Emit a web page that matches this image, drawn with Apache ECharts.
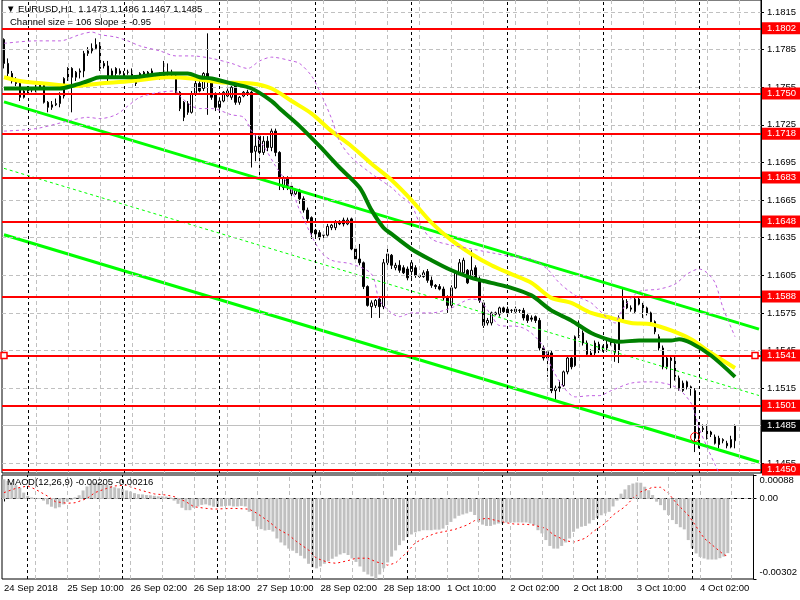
<!DOCTYPE html>
<html><head><meta charset="utf-8">
<script src="https://cdn.jsdelivr.net/npm/echarts@6/dist/echarts.min.js"></script>
<style>html,body{margin:0;padding:0;background:#fff}#c{width:800px;height:600px}</style>
</head><body><div id="c"></div>
<script>
// ---------- DATA ----------
const symbolName = 'EURUSD,H1';
const tickLabels = ['24 Sep 2018','25 Sep 10:00','26 Sep 02:00','26 Sep 18:00','27 Sep 10:00','28 Sep 02:00','28 Sep 18:00','1 Oct 10:00','2 Oct 02:00','2 Oct 18:00','3 Oct 10:00','4 Oct 02:00'];
const priceTicks = [1.1815,1.1785,1.1755,1.1725,1.1695,1.1665,1.1635,1.1605,1.1575,1.1545,1.1515,1.1485,1.1455];
const levels = [1.1802,1.1750,1.1718,1.1683,1.1648,1.1588,1.1541,1.1501,1.1450];
const selectedLevel = 1.1541;
const lastPrice = 1.1485;
const macdTicks = [0.00088, 0, -0.00302];

const opens = [1.1793,1.1774,1.1766,1.1760,1.1758,1.1747,1.1752,1.1754,1.1753,1.1755,1.1757,1.1743,1.1739,1.1741,1.1742,1.1748,1.1762,1.1770,1.1763,1.1767,
1.1768,1.1782,1.1784,1.1786,1.1789,1.1774,1.1772,1.1768,1.1770,1.1768,1.1766,1.1767,1.1768,1.1762,1.1762,1.1765,1.1767,1.1768,1.1764,1.1762,
1.1764,1.1766,1.1767,1.1764,1.1751,1.1743,1.1742,1.1735,1.1750,1.1758,1.1754,1.1766,1.1760,1.1749,1.1739,1.1744,1.1748,1.1747,1.1756,1.1743,
1.1748,1.1751,1.1751,1.1704,1.1716,1.1703,1.1712,1.1707,1.1720,1.1703,1.1675,1.1683,1.1676,1.1670,1.1673,1.1666,1.1657,1.1651,1.1641,1.1639,
1.1637,1.1637,1.1643,1.1643,1.1648,1.1649,1.1646,1.1650,1.1626,1.1618,1.1615,1.1596,1.1580,1.1581,1.1586,1.1580,1.1615,1.1621,1.1611,1.1613,
1.1611,1.1610,1.1608,1.1611,1.1605,1.1604,1.1608,1.1601,1.1597,1.1596,1.1594,1.1587,1.1581,1.1595,1.1607,1.1607,1.1609,1.1603,1.1611,1.1602,
1.1583,1.1567,1.1567,1.1574,1.1574,1.1579,1.1578,1.1577,1.1578,1.1577,1.1577,1.1573,1.1571,1.1572,1.1569,1.1547,1.1544,1.1543,1.1513,1.1516,
1.1517,1.1528,1.1539,1.1533,1.1556,1.1559,1.1551,1.1541,1.1543,1.1550,1.1548,1.1547,1.1553,1.1550,1.1545,1.1570,1.1584,1.1579,1.1576,1.1586,
1.1582,1.1579,1.1575,1.1568,1.1556,1.1547,1.1532,1.1539,1.1538,1.1523,1.1513,1.1520,1.1516,1.1513,1.1477,1.1482,1.1484,1.1480,1.1476,1.1475,
1.1473,1.1471,1.1468,1.1473];
const closes = [1.1774,1.1766,1.1760,1.1758,1.1747,1.1752,1.1754,1.1753,1.1755,1.1757,1.1743,1.1739,1.1741,1.1742,1.1748,1.1762,1.1770,1.1763,1.1767,1.1768,
1.1782,1.1784,1.1786,1.1789,1.1770,1.1772,1.1762,1.1764,1.1766,1.1766,1.1766,1.1767,1.1764,1.1758,1.1766,1.1767,1.1764,1.1764,1.1763,1.1766,
1.1768,1.1767,1.1765,1.1751,1.1738,1.1731,1.1735,1.1750,1.1758,1.1752,1.1766,1.1760,1.1747,1.1739,1.1744,1.1751,1.1752,1.1755,1.1743,1.1747,
1.1751,1.1750,1.1703,1.1708,1.1703,1.1712,1.1707,1.1720,1.1703,1.1683,1.1683,1.1675,1.1670,1.1673,1.1666,1.1657,1.1650,1.1639,1.1638,1.1635,
1.1637,1.1644,1.1645,1.1647,1.1646,1.1646,1.1649,1.1626,1.1618,1.1615,1.1596,1.1581,1.1583,1.1585,1.1580,1.1615,1.1622,1.1613,1.1613,1.1609,
1.1607,1.1603,1.1615,1.1605,1.1604,1.1607,1.1601,1.1597,1.1596,1.1594,1.1587,1.1581,1.1595,1.1607,1.1615,1.1617,1.1599,1.1609,1.1602,1.1585,
1.1565,1.1569,1.1575,1.1575,1.1579,1.1576,1.1575,1.1577,1.1576,1.1577,1.1571,1.1569,1.1570,1.1569,1.1547,1.1539,1.1539,1.1513,1.1515,1.1515,
1.1528,1.1539,1.1532,1.1556,1.1557,1.1551,1.1542,1.1543,1.1551,1.1545,1.1547,1.1550,1.1550,1.1543,1.1571,1.1585,1.1579,1.1578,1.1586,1.1582,
1.1577,1.1575,1.1568,1.1560,1.1547,1.1532,1.1539,1.1537,1.1524,1.1515,1.1519,1.1516,1.1515,1.1475,1.1480,1.1483,1.1475,1.1478,1.1471,1.1470,
1.1474,1.1469,1.1474,1.1485];
const highs = [1.1794,1.1778,1.1768,1.1763,1.1761,1.1754,1.1756,1.1755,1.1757,1.1759,1.1758,1.1744,1.1744,1.1746,1.1751,1.1763,1.1771,1.1771,1.1768,1.1770,
1.1784,1.1787,1.1790,1.1794,1.1791,1.1776,1.1776,1.1770,1.1771,1.1770,1.1768,1.1769,1.1770,1.1764,1.1767,1.1768,1.1768,1.1770,1.1766,1.1767,
1.1776,1.1774,1.1769,1.1766,1.1752,1.1744,1.1744,1.1752,1.1760,1.1760,1.1767,1.1798,1.1762,1.1751,1.1747,1.1752,1.1754,1.1756,1.1758,1.1748,
1.1752,1.1753,1.1752,1.1718,1.1718,1.1716,1.1716,1.1722,1.1722,1.1704,1.1684,1.1684,1.1678,1.1674,1.1674,1.1668,1.1659,1.1652,1.1642,1.1641,
1.1638,1.1646,1.1646,1.1649,1.1649,1.1651,1.1651,1.1651,1.1628,1.1630,1.1616,1.1597,1.1585,1.1586,1.1588,1.1618,1.1628,1.1622,1.1615,1.1617,
1.1613,1.1612,1.1617,1.1613,1.1606,1.1609,1.1610,1.1604,1.1598,1.1598,1.1596,1.1589,1.1597,1.1609,1.1618,1.1619,1.1610,1.1625,1.1613,1.1604,
1.1585,1.1571,1.1576,1.1576,1.1580,1.1580,1.1580,1.1578,1.1580,1.1578,1.1579,1.1575,1.1573,1.1573,1.1571,1.1549,1.1545,1.1545,1.1517,1.1521,
1.1529,1.1541,1.1541,1.1557,1.1569,1.1561,1.1553,1.1546,1.1553,1.1552,1.1549,1.1553,1.1554,1.1553,1.1573,1.1594,1.1586,1.1581,1.1588,1.1588,
1.1583,1.1580,1.1576,1.1569,1.1558,1.1549,1.1541,1.1541,1.1540,1.1525,1.1521,1.1521,1.1517,1.1515,1.1488,1.1486,1.1486,1.1481,1.1478,1.1477,
1.1475,1.1473,1.1477,1.1486];
const lows = [1.1770,1.1763,1.1758,1.1756,1.1744,1.1746,1.1750,1.1751,1.1751,1.1753,1.1742,1.1735,1.1737,1.1740,1.1739,1.1746,1.1760,1.1735,1.1760,1.1762,
1.1763,1.1780,1.1782,1.1785,1.1768,1.1770,1.1760,1.1762,1.1764,1.1765,1.1764,1.1765,1.1762,1.1756,1.1761,1.1764,1.1762,1.1762,1.1761,1.1761,
1.1763,1.1764,1.1763,1.1750,1.1736,1.1728,1.1733,1.1734,1.1748,1.1751,1.1752,1.1733,1.1745,1.1736,1.1737,1.1743,1.1747,1.1745,1.1741,1.1741,
1.1747,1.1748,1.1691,1.1696,1.1685,1.1701,1.1704,1.1704,1.1700,1.1673,1.1673,1.1673,1.1665,1.1669,1.1662,1.1655,1.1647,1.1634,1.1636,1.1633,
1.1634,1.1636,1.1641,1.1641,1.1645,1.1644,1.1645,1.1625,1.1617,1.1613,1.1594,1.1580,1.1571,1.1579,1.1571,1.1578,1.1613,1.1610,1.1609,1.1607,
1.1606,1.1601,1.1603,1.1603,1.1603,1.1603,1.1599,1.1595,1.1594,1.1593,1.1585,1.1575,1.1576,1.1594,1.1606,1.1605,1.1598,1.1602,1.1601,1.1583,
1.1563,1.1565,1.1565,1.1573,1.1572,1.1575,1.1573,1.1575,1.1575,1.1575,1.1569,1.1567,1.1568,1.1567,1.1545,1.1537,1.1524,1.1511,1.1505,1.1512,
1.1516,1.1526,1.1530,1.1532,1.1555,1.1549,1.1540,1.1540,1.1541,1.1543,1.1544,1.1544,1.1549,1.1536,1.1535,1.1569,1.1578,1.1576,1.1575,1.1581,
1.1571,1.1573,1.1566,1.1558,1.1545,1.1530,1.1530,1.1515,1.1521,1.1513,1.1512,1.1514,1.1509,1.1464,1.1467,1.1480,1.1474,1.1476,1.1470,1.1467,
1.1471,1.1467,1.1467,1.1467];

// moving averages, read at sample bars: [bar, price]
const maYellow = [[0,1.1763],[4,1.1760],[10,1.1758],[17,1.1756],[24,1.1758],[32,1.1760],[41,1.1763],[47,1.1762],[54,1.1759],[62,1.1758],[67,1.1754],[72,1.1744],[77,1.1734],[82,1.1720],[87,1.1708],[92,1.1694],[97,1.1681],[102,1.1665],[107,1.1647],[112,1.1633],[117,1.1622],[122,1.1613],[127,1.1606],[132,1.1599],[137,1.1587],[142,1.1583],[147,1.1575],[152,1.1571],[157,1.1567],[162,1.1566],[167,1.1561],[172,1.1554],[177,1.1543],[183,1.1531]];
const maGreen = [[0,1.1754],[7,1.1754],[14,1.1754],[17,1.1756],[21,1.1760],[24,1.1763],[32,1.1763],[41,1.1766],[46,1.1766],[49,1.1763],[52,1.1762],[57,1.1758],[62,1.1754],[67,1.1744],[69,1.1738],[74,1.1724],[79,1.1708],[84,1.1691],[89,1.1675],[92,1.1657],[95,1.1643],[97,1.1638],[102,1.1626],[107,1.1617],[112,1.1609],[117,1.1603],[122,1.1599],[127,1.1595],[132,1.1589],[137,1.1577],[142,1.1569],[147,1.1559],[152,1.1553],[154,1.1552],[159,1.1553],[167,1.1553],[169,1.1554],[172,1.1551],[177,1.1541],[183,1.1524]];
// Bollinger-type envelope (dashed purple)
const bbUpper = [[0,1.1790],[8,1.1792],[14,1.1792],[19,1.1797],[22,1.1799],[24,1.1797],[28,1.1795],[31,1.1792],[34,1.1788],[39,1.1784],[43,1.1780],[47,1.1780],[52,1.1778],[57,1.1774],[61,1.1770],[64,1.1776],[67,1.1779],[72,1.1776],[74,1.1774],[77,1.1764],[79,1.1752],[82,1.1730],[84,1.1712],[87,1.1699],[92,1.1686],[97,1.1675],[99,1.1669],[102,1.1661],[104,1.1647],[107,1.1634],[112,1.1629],[117,1.1626],[122,1.1623],[127,1.1620],[132,1.1618],[136,1.1610],[139,1.1599],[143,1.1589],[147,1.1583],[149,1.1577],[153,1.1567],[154,1.1573],[156,1.1583],[159,1.1592],[164,1.1594],[168,1.1598],[171,1.1606],[174,1.1610],[176,1.1607],[178,1.1599],[180,1.1579],[183,1.1556]];
const bbLower = [[0,1.1720],[8,1.1722],[16,1.1728],[21,1.1731],[24,1.1730],[28,1.1733],[31,1.1740],[34,1.1747],[39,1.1751],[43,1.1752],[44,1.1748],[47,1.1740],[49,1.1738],[52,1.1738],[57,1.1733],[60,1.1731],[62,1.1720],[65,1.1708],[68,1.1692],[72,1.1673],[74,1.1657],[79,1.1625],[82,1.1617],[87,1.1614],[92,1.1606],[94,1.1585],[97,1.1575],[99,1.1572],[102,1.1575],[107,1.1575],[112,1.1579],[117,1.1586],[119,1.1585],[122,1.1573],[124,1.1565],[129,1.1564],[132,1.1559],[135,1.1548],[137,1.1532],[140,1.1516],[143,1.1508],[147,1.1509],[149,1.1509],[152,1.1513],[157,1.1519],[162,1.1520],[168,1.1516],[172,1.1503],[174,1.1483],[176,1.1468],[178,1.1454],[180,1.1442],[183,1.1434]];
// regression channel (start bar, end bar)
const channelMid = [[0,1.16903],[189,1.15091]];
const channelUpper = [[0,1.17433],[189,1.15621]];
const channelLower = [[0,1.16373],[189,1.14561]];
const entryMark = [173, 1.1476];

const macdHist = [0.00072,0.00066,0.00058,0.00050,0.00040,0.00022,0.00010,0.00004,0.00002,0.00001,-0.00008,-0.00022,-0.00031,-0.00037,-0.00033,-0.00022,-0.00012,-0.00006,0.00004,0.00012,
0.00030,0.00045,0.00055,0.00060,0.00060,0.00058,0.00052,0.00048,0.00042,0.00038,0.00036,0.00030,0.00026,0.00020,0.00016,0.00015,0.00013,0.00012,0.00010,0.00008,
0.00008,0.00007,0.00004,-0.00008,-0.00020,-0.00035,-0.00044,-0.00044,-0.00035,-0.00030,-0.00024,-0.00022,-0.00026,-0.00031,-0.00032,-0.00030,-0.00028,-0.00027,-0.00030,-0.00030,
-0.00028,-0.00030,-0.00050,-0.00085,-0.00105,-0.00115,-0.00120,-0.00118,-0.00124,-0.00150,-0.00165,-0.00176,-0.00188,-0.00196,-0.00205,-0.00215,-0.00225,-0.00245,-0.00258,-0.00262,
-0.00255,-0.00245,-0.00236,-0.00226,-0.00218,-0.00210,-0.00205,-0.00212,-0.00225,-0.00238,-0.00255,-0.00275,-0.00285,-0.00292,-0.00302,-0.00285,-0.00262,-0.00240,-0.00218,-0.00195,
-0.00175,-0.00158,-0.00145,-0.00135,-0.00127,-0.00123,-0.00119,-0.00119,-0.00119,-0.00117,-0.00117,-0.00113,-0.00100,-0.00088,-0.00075,-0.00065,-0.00060,-0.00056,-0.00050,-0.00062,
-0.00088,-0.00098,-0.00103,-0.00103,-0.00098,-0.00094,-0.00094,-0.00090,-0.00090,-0.00090,-0.00090,-0.00090,-0.00090,-0.00094,-0.00100,-0.00119,-0.00131,-0.00156,-0.00178,-0.00188,
-0.00188,-0.00178,-0.00165,-0.00150,-0.00125,-0.00113,-0.00106,-0.00103,-0.00094,-0.00081,-0.00073,-0.00063,-0.00056,-0.00050,-0.00030,-0.00008,0.00018,0.00034,0.00050,0.00056,
0.00060,0.00059,0.00044,0.00031,0.00013,-0.00012,-0.00025,-0.00044,-0.00062,-0.00081,-0.00096,-0.00108,-0.00116,-0.00156,-0.00187,-0.00206,-0.00219,-0.00225,-0.00229,-0.00229,
-0.00229,-0.00224,-0.00218,-0.00205];
const macdSignal = [[0,0.00022],[3,0.00038],[6,0.00047],[8,0.00034],[11,0.00009],[13,-0.00012],[16,-0.00018],[18,-0.00016],[21,0.0],[23,0.00022],[26,0.00038],[28,0.00047],[31,0.00050],[33,0.00038],[36,0.00025],[38,0.00017],[41,0.00013],[43,0.00007],[46,-0.00012],[48,-0.00031],[51,-0.00037],[53,-0.00040],[58,-0.00037],[62,-0.00040],[64,-0.00056],[67,-0.00087],[69,-0.00112],[72,-0.00137],[74,-0.00162],[77,-0.00193],[79,-0.00224],[82,-0.00240],[84,-0.00243],[87,-0.00233],[89,-0.00224],[92,-0.00224],[94,-0.00237],[97,-0.00250],[99,-0.00242],[102,-0.00200],[104,-0.00166],[107,-0.00143],[109,-0.00131],[112,-0.00122],[114,-0.00116],[117,-0.00100],[119,-0.00083],[122,-0.00074],[124,-0.00081],[127,-0.00091],[129,-0.00096],[132,-0.00097],[134,-0.00100],[137,-0.00112],[139,-0.00137],[142,-0.00158],[144,-0.00164],[147,-0.00149],[149,-0.00124],[152,-0.00093],[154,-0.00062],[157,-0.00031],[159,0.0],[161,0.00025],[164,0.00042],[166,0.00042],[168,0.00020],[170,-0.00018],[173,-0.00062],[175,-0.00105],[177,-0.00149],[180,-0.00186],[182,-0.00211],[183,-0.00216]];

// ---------- TIMELINE (hourly bars, weekends skipped) ----------
const SLOTS = 190;
const MONTHS = ['Jan','Feb','Mar','Apr','May','Jun','Jul','Aug','Sep','Oct','Nov','Dec'];
const cats = [];
(function(){
  let t = Date.UTC(2018, 8, 24, 18);
  while (cats.length < SLOTS) {
    const d = new Date(t);
    const wd = d.getUTCDay();
    if (wd !== 0 && wd !== 6) {
      const h = d.getUTCHours();
      cats.push(d.getUTCDate() + ' ' + MONTHS[d.getUTCMonth()] + ' ' + (h < 10 ? '0' : '') + h + ':00');
    }
    t += 3600e3;
  }
})();
const labelEvery = 16, gridEvery = 8;
const grayV = [], dayV = [];
cats.forEach((c, i) => { if (c.endsWith(' 00:00')) dayV.push(c); else if (i > 0 && i % gridEvery === 0) grayV.push(c); });

// ---------- CHART ----------
const FF = "'Liberation Sans', Arial, sans-serif";
const FS = 9.5;
const chart = echarts.init(document.getElementById('c'), null, {renderer: 'canvas'});
const last = opens.length - 1;
const grayDash = {color: '#c0c0c0', type: [4, 3], width: 1};
const blackDash = {color: '#000', type: [3, 3], width: 1};
const f4 = v => v.toFixed(4);

const option = {
  animation: false,
  backgroundColor: '#fff',
  textStyle: {fontFamily: FF},
  title: [
    {text: '\u25BC ' + symbolName + '  ' + [opens[last], highs[last], lows[last], closes[last]].map(f4).join(' '),
     left: 6, top: 4, padding: 0, textStyle: {fontSize: FS, fontWeight: 'normal', color: '#000', fontFamily: FF, lineHeight: 11}},
    {text: 'Channel size = 106 Slope = -0.95', left: 10, top: 17, padding: 0,
     textStyle: {fontSize: FS, fontWeight: 'normal', color: '#000', fontFamily: FF, lineHeight: 11}},
    {text: 'MACD(12,26,9) ' + macdHist[last].toFixed(5) + ' ' + macdSignal[macdSignal.length - 1][1].toFixed(5),
     left: 7, top: 477, padding: 0, textStyle: {fontSize: FS, fontWeight: 'normal', color: '#000', fontFamily: FF, lineHeight: 11}}
  ],
  grid: [
    {left: 2, top: -1, width: 759, height: 474, show: true, borderColor: '#000', borderWidth: 1, backgroundColor: 'rgba(0,0,0,0)'},
    {left: 2, top: 475, width: 759, height: 104, show: true, borderColor: '#000', borderWidth: 1, backgroundColor: 'rgba(0,0,0,0)'}
  ],
  xAxis: [
    {type: 'category', gridIndex: 0, data: cats, show: false},
    {type: 'category', gridIndex: 1, data: cats,
     axisLine: {show: true, lineStyle: {color: '#000'}},
     axisTick: {show: true, alignWithLabel: true, length: 3, interval: i => i % labelEvery === 0, lineStyle: {color: '#000'}},
     axisLabel: {show: true, interval: i => i % labelEvery === 0, align: 'left', margin: 4, color: '#000', fontSize: FS, fontFamily: FF,
       formatter: (v, i) => tickLabels[i / labelEvery] || ''},
     splitLine: {show: false}}
  ],
  yAxis: [
    {type: 'value', gridIndex: 0, position: 'right', min: 1.14473, max: 1.18246,
     axisLine: {show: true, lineStyle: {color: '#000'}},
     axisTick: {show: true, length: 3, customValues: priceTicks, lineStyle: {color: '#000'}},
     axisLabel: {show: true, customValues: priceTicks, formatter: v => v.toFixed(4), margin: 6, color: '#000', fontSize: FS, fontFamily: FF},
     splitLine: {show: false}},
    {type: 'value', gridIndex: 1, position: 'right', min: -0.00302, max: 0.00088,
     axisLine: {show: true, lineStyle: {color: '#000'}},
     axisTick: {show: true, length: 3, customValues: macdTicks, lineStyle: {color: '#000'}},
     axisLabel: {show: true, customValues: macdTicks, margin: 6, color: '#000', fontSize: FS, fontFamily: FF,
       formatter: v => v > 0 ? '{t|' + v.toFixed(5) + '}' : (v < 0 ? '{b|' + v.toFixed(5) + '}' : '0.00'),
       rich: {t: {padding: [10, 0, 0, 0], fontSize: FS, color: '#000', fontFamily: FF},
              b: {padding: [0, 0, 13, 0], fontSize: FS, color: '#000', fontFamily: FF}}},
     splitLine: {show: false}}
  ],
  series: [
    // background grid of main panel
    {type: 'line', xAxisIndex: 0, yAxisIndex: 0, data: [], silent: true, z: 1,
     markLine: {silent: true, symbol: 'none', animation: false, precision: 6, label: {show: false},
       data: [].concat(
         priceTicks.map(v => ({yAxis: v, lineStyle: grayDash})),
         grayV.map(c => ({xAxis: c, lineStyle: grayDash})),
         dayV.map(c => ({xAxis: c, lineStyle: blackDash})))}},
    // background grid of MACD panel
    {type: 'line', xAxisIndex: 1, yAxisIndex: 1, data: [], silent: true, z: 1,
     markLine: {silent: true, symbol: 'none', animation: false, precision: 6, label: {show: false},
       data: [].concat(
         [{yAxis: 0, lineStyle: grayDash}],
         grayV.map(c => ({xAxis: c, lineStyle: grayDash})),
         dayV.map(c => ({xAxis: c, lineStyle: blackDash})))}},
    // current price line
    {type: 'line', xAxisIndex: 0, yAxisIndex: 0, data: [], silent: true, z: 2,
     markLine: {silent: true, symbol: 'none', animation: false, precision: 6,
       data: [{yAxis: lastPrice}],
       lineStyle: {color: '#c0c0c0', type: 'solid', width: 1},
       label: {show: true, position: 'end', distance: 1, formatter: p => f4(p.value), color: '#fff', backgroundColor: '#000',
         padding: [1, 5, 0, 5], fontSize: FS, fontFamily: FF, lineHeight: 11}}},
    // MACD histogram
    {type: 'bar', xAxisIndex: 1, yAxisIndex: 1, data: macdHist, barWidth: 3, itemStyle: {color: '#c0c0c0'}, silent: true, z: 2},
    {type: 'line', xAxisIndex: 1, yAxisIndex: 1, data: macdSignal, showSymbol: false, silent: true, z: 3,
     lineStyle: {color: '#ff0000', width: 1, type: [2, 3]}},
    // candles
    {type: 'candlestick', xAxisIndex: 0, yAxisIndex: 0, barWidth: 2, silent: true, z: 3,
     data: opens.map((o, i) => [o, closes[i], lows[i], highs[i]]),
     itemStyle: {color: '#ffffff', color0: '#000000', borderColor: '#000', borderColor0: '#000', borderColorDoji: '#000', borderWidth: 1}},
    // regression channel
    {type: 'line', xAxisIndex: 0, yAxisIndex: 0, data: channelUpper, showSymbol: false, silent: true, z: 4, lineStyle: {color: '#00ff00', width: 3}},
    {type: 'line', xAxisIndex: 0, yAxisIndex: 0, data: channelLower, showSymbol: false, silent: true, z: 4, lineStyle: {color: '#00ff00', width: 3}},
    {type: 'line', xAxisIndex: 0, yAxisIndex: 0, data: channelMid, showSymbol: false, silent: true, z: 4, lineStyle: {color: '#00ff00', width: 1, type: [3, 3]}},
    // horizontal levels
    {type: 'line', xAxisIndex: 0, yAxisIndex: 0, data: [], silent: true, z: 5,
     markLine: {silent: true, symbol: 'none', animation: false, precision: 6,
       data: levels.map(v => ({yAxis: v})),
       lineStyle: {color: '#ff0000', type: 'solid', width: 2},
       label: {show: true, position: 'end', distance: 1, formatter: p => f4(p.value), color: '#fff', backgroundColor: '#ff0000',
         padding: [1, 5, 0, 5], fontSize: FS, fontFamily: FF, lineHeight: 11}},
     markPoint: {silent: true, animation: false, label: {show: false},
       data: [
         {coord: [cats[0], selectedLevel], symbol: 'rect', symbolSize: 6, itemStyle: {color: '#fff', borderColor: '#ff0000', borderWidth: 1.5}},
         {coord: [cats[188], selectedLevel], symbol: 'rect', symbolSize: 6, itemStyle: {color: '#fff', borderColor: '#ff0000', borderWidth: 1.5}},
         {coord: [cats[entryMark[0]], entryMark[1]], symbol: 'circle', symbolSize: 9, itemStyle: {color: 'rgba(0,0,0,0)', borderColor: '#ff0000', borderWidth: 1}}
       ]}},
    // moving averages
    {type: 'line', xAxisIndex: 0, yAxisIndex: 0, data: maYellow, showSymbol: false, silent: true, smooth: 0.3, z: 6, lineStyle: {color: '#ffff00', width: 4}},
    {type: 'line', xAxisIndex: 0, yAxisIndex: 0, data: maGreen, showSymbol: false, silent: true, smooth: 0.3, z: 6, lineStyle: {color: '#008000', width: 4}},
    // envelope bands
    {type: 'line', xAxisIndex: 0, yAxisIndex: 0, data: bbUpper, showSymbol: false, silent: true, smooth: 0.3, z: 7, lineStyle: {color: '#c060e0', width: 1, type: [3, 3]}},
    {type: 'line', xAxisIndex: 0, yAxisIndex: 0, data: bbLower, showSymbol: false, silent: true, smooth: 0.3, z: 7, lineStyle: {color: '#c060e0', width: 1, type: [3, 3]}}
  ]
};
chart.setOption(option);
</script>
</body></html>
